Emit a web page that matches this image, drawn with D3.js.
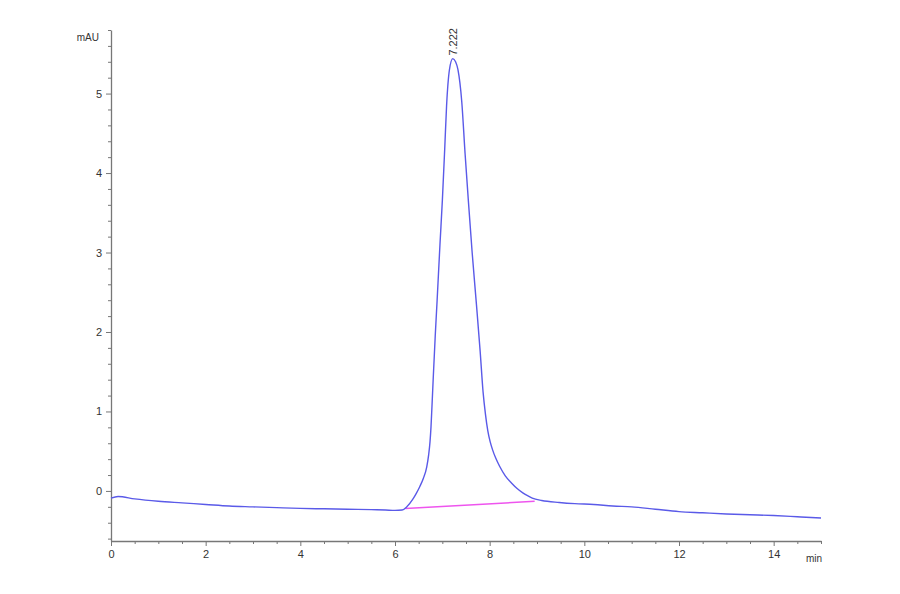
<!DOCTYPE html>
<html>
<head>
<meta charset="utf-8">
<script src="https://cdn.jsdelivr.net/npm/d3@7"></script>
<style>
  body { margin: 0; background: #fff; }
  text { font-family: Arial, "Liberation Sans", sans-serif; }
</style>
</head>
<body>
<script>
// Signal trace (time in min, signal in mAU)
var times = [0.00, 0.15, 0.50, 1.00, 1.50, 2.00, 2.50, 3.00, 3.50, 4.00, 4.50, 5.00, 5.50, 5.80,
             6.00, 6.15, 6.25, 6.37, 6.45, 6.52, 6.60, 6.67, 6.71, 6.74, 6.76, 6.78, 6.81, 6.85,
             6.89, 6.95, 7.00, 7.05, 7.09, 7.15, 7.22, 7.28, 7.33, 7.41, 7.48, 7.55, 7.63, 7.72,
             7.80, 7.86, 7.91, 7.96, 8.01, 8.06, 8.13, 8.21, 8.33, 8.46, 8.58, 8.70, 8.80, 8.90,
             9.10, 9.47, 9.80, 10.2, 10.6, 11.0, 11.5, 12.0, 12.5, 13.0, 13.5, 14.0, 14.5, 15.0];
var signal = [-0.09, -0.07, -0.10, -0.13, -0.15, -0.17, -0.19, -0.20, -0.21, -0.22, -0.225, -0.23, -0.235, -0.24,
              -0.245, -0.24, -0.20, -0.11, -0.03, 0.05, 0.16, 0.30, 0.45, 0.62, 0.80, 1.05, 1.45, 1.95,
              2.40, 3.10, 3.65, 4.30, 4.85, 5.30, 5.44, 5.40, 5.30, 4.90, 4.25, 3.65, 3.00, 2.35,
              1.75, 1.25, 0.97, 0.76, 0.62, 0.52, 0.41, 0.31, 0.19, 0.10, 0.03, -0.025, -0.06, -0.09,
              -0.12, -0.145, -0.16, -0.17, -0.19, -0.20, -0.23, -0.26, -0.275, -0.29, -0.30, -0.31, -0.325, -0.34];

// Integration baseline under the peak
var baseTimes = [6.22, 8.95];
var baseValues = [-0.22, -0.13];

// Peak annotation
var peakTime = 7.222;
var peakValue = 5.44;
var peakLabel = "7.222";

// Axis ticks
var xMajor = [0, 2, 4, 6, 8, 10, 12, 14];
var yMajor = [0, 1, 2, 3, 4, 5];

var w = 900, h = 594;

var x = d3.scaleLinear().domain([0, 15]).range([111, 821]);
var y = d3.scaleLinear().domain([-0.63, 5.8]).range([541, 30]);

var svg = d3.select("body").append("svg")
    .attr("width", w)
    .attr("height", h);

// minor ticks
var xMinor = d3.range(0.5, 15.01, 0.5).filter(function(t) { return t % 2 !== 0; });
var yMinor = d3.range(-0.6, 5.81, 0.2).map(function(v) { return Math.round(v * 10) / 10; })
    .filter(function(v) { return yMajor.indexOf(v) < 0; });

svg.append("g")
    .attr("transform", "translate(0,541)")
    .call(d3.axisBottom(x).tickValues(xMinor).tickSize(3).tickFormat(""))
    .call(function(g) { g.select(".domain").remove(); });

svg.append("g")
    .attr("transform", "translate(111,0)")
    .call(d3.axisLeft(y).tickValues(yMinor).tickSize(3).tickFormat(""))
    .call(function(g) { g.select(".domain").remove(); });

svg.append("g")
    .attr("transform", "translate(0,541)")
    .call(d3.axisBottom(x).tickValues(xMajor).tickSize(5).tickSizeOuter(0).tickPadding(4)
        .tickFormat(d3.format("d")));

svg.append("g")
    .attr("transform", "translate(111,0)")
    .call(d3.axisLeft(y).tickValues(yMajor).tickSize(5).tickSizeOuter(0).tickPadding(4)
        .tickFormat(d3.format("d")));

svg.selectAll(".tick line").attr("stroke", "#777");
svg.selectAll(".domain").attr("stroke", "#777").attr("stroke-width", 1.3);
svg.selectAll(".tick text").attr("fill", "#333").attr("font-size", 11);

// axis unit labels
svg.append("text")
    .attr("x", 99).attr("y", 41)
    .attr("text-anchor", "end")
    .attr("font-size", 10)
    .attr("fill", "#333")
    .text("mAU");

svg.append("text")
    .attr("x", 806).attr("y", 562)
    .attr("font-size", 10)
    .attr("fill", "#333")
    .text("min");

// integration baseline
svg.append("line")
    .attr("x1", x(baseTimes[0])).attr("y1", y(baseValues[0]))
    .attr("x2", x(baseTimes[1])).attr("y2", y(baseValues[1]))
    .attr("stroke", "#ee55ee")
    .attr("stroke-width", 1.5);

// signal trace
var line = d3.line()
    .x(function(d, i) { return x(times[i]); })
    .y(function(d) { return y(d); })
    .curve(d3.curveMonotoneX);

svg.append("path")
    .datum(signal)
    .attr("d", line)
    .attr("fill", "none")
    .attr("stroke", "#5a5ae8")
    .attr("stroke-width", 1.4);

// peak label, rotated
svg.append("text")
    .attr("transform", "translate(" + (x(peakTime) + 4) + "," + (y(peakValue) - 3) + ") rotate(-90)")
    .attr("font-size", 11)
    .attr("fill", "#333")
    .text(peakLabel);
</script>
</body>
</html>
